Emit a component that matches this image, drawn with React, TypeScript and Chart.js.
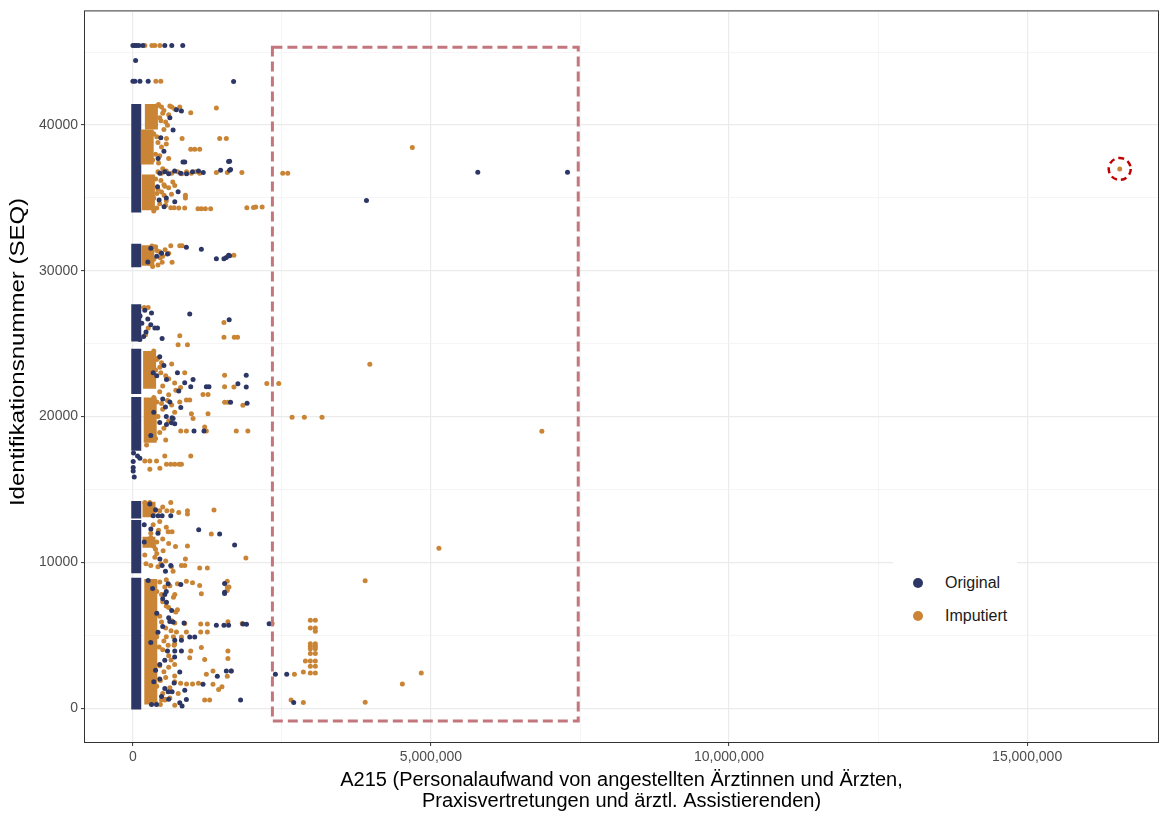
import React, { useEffect, useRef } from "react";
import { Chart, registerables } from "chart.js";

Chart.register(...registerables);

const NAVY = "#2D3766";
const ORANGE = "#C98535";
const FONT = "'Liberation Sans', Arial, sans-serif";

const seriesNames = ["Original", "Imputiert"];
const xTitleLines = [
  "A215 (Personalaufwand von angestellten Ärztinnen und Ärzten,",
  "Praxisvertretungen und ärztl. Assistierenden)",
];
const yTitle = "Identifikationsnummer (SEQ)";

const X_MIN = -803600;
const X_MAX = 17195000;
const Y_MIN = -2325;
const Y_MAX = 47795;
const xGridValues = [0, 2500000, 5000000, 7500000, 10000000, 12500000, 15000000];
const xMajorTicks = [0, 5000000, 10000000, 15000000];
const yGridValues = [0, 5000, 10000, 15000, 20000, 25000, 30000, 35000, 40000, 45000];
const yMajorTicks = [0, 10000, 20000, 30000, 40000];

// dense clusters of records near zero (x in thousands, y ranges of SEQ)
const navyBandCenterK = 56;
const navyBandSegments: [number, number][] = [
  [-100, 8950], [9250, 12900], [13000, 14200], [17650, 21350], [21550, 24650],
  [25150, 27700], [30250, 31850], [34000, 41450],
];
// [x center in thousands, y start, y end]
const orangeBandSegments: [number, number, number][] = [
  [310, 39700, 41450], [240, 37300, 39700], [260, 34150, 36600], [250, 30350, 31750],
  [280, 21900, 24500], [290, 18200, 21300], [270, 13100, 14150], [270, 11000, 11750],
  [300, 250, 8850],
];

// individual points: [A215 in thousands, SEQ]
const navyPointsK: [number, number][] = [
  [0,45450],[30,45450],[60,45450],[100,45450],[167,45450],[535,45450],[652,45450],[836,45450],
  [45,44430],[0,43010],[33,43010],[117,43010],[256,43010],[1689,42990],
  [730,41050],[814,40960],[674,39660],[468,39120],[423,37700],[840,37470],[870,37470],[1605,37500],
  [1622,37520],[1471,36900],[1638,36950],[1622,36900],
  [452,36700],[535,36800],[600,36650],[700,36850],[800,36700],[900,36650],[1000,36800],[1100,36850],[1180,36750],
  [413,35760],[758,35420],[702,34740],[523,34400],[440,34860],
  [3918,34830],[5785,36760],[7290,36760],
  [897,31610],[1148,31480],[580,31160],[1400,30830],[1527,30830],[1567,30920],[1605,31060],[1622,31040],
  [300,31550],[400,31000],[250,30600],
  [312,27100],[953,27030],[1615,26650],[368,26070],[413,26070],[490,25350],[117,25280],[200,27300],
  [250,26700],[150,26400],[300,26300],[220,25800],[180,25500],[100,27500],[120,26900],
  [747,23000],[1009,22550],[1901,22840],[1761,22250],[1901,22020],[1232,22040],[1276,22040],[970,22040],
  [340,23000],[563,22550],[869,22320],[769,21750],[1638,20990],[1915,20915],[803,20630],[546,20650],
  [657,19920],[674,19870],[647,19580],[563,19450],[1025,19010],[1192,19010],[702,19510],
  [400,22800],[500,21200],[350,20300],[450,19600],[300,18700],[520,23500],
  [78,17300],[117,17140],[5,16910],[5,16500],[5,16270],[22,15860],[10,17500],
  [284,14000],[340,13200],[423,13200],[490,13200],[635,13200],[190,12580],[301,12290],[1104,12240],
  [1455,11940],[190,11400],[1706,11190],[452,10230],[490,9780],[635,9780],[546,9390],
  [256,8750],[591,8530],[803,8480],[1538,8550],[1538,7950],[1538,7860],[535,7800],[563,7270],
  [619,5950],[674,5900],[858,5840],[1400,5680],[1527,5680],[1605,5680],[1845,5770],[1905,5760],[2285,5780],
  [702,4650],[814,4650],[953,4880],[1037,4880],[580,3920],[702,3920],[814,3920],[535,3280],
  [786,2480],[1567,2550],[1650,2550],[1416,2190],[1176,1640],[691,1730],[535,1350],[591,1120],
  [657,1120],[870,1230],[1806,550],[786,360],[825,140],[897,590],[312,250],[396,250],
  [2390,2330],[2580,2330],[2697,390],
  [400,6500],[300,4500],[450,3000],[350,1800],[500,7500],[420,5200],[600,6200],[380,2600],[480,800],[330,8200],
  [620,40500],[520,38200],[560,35000],[480,31200],[450,24100],[620,21000],[560,20000],[560,8000],
  [650,6700],[500,5600],[700,3500],[450,2000],[600,600],[420,12000],[380,13600],
];

const orangePointsK: [number, number][] = [
  [200,45450],[318,45450],[368,45450],[452,45450],[385,43010],[468,43010],
  [480,41230],[652,41230],[786,41230],[970,40840],[1400,41160],[400,41300],[520,41000],[600,40700],
  [450,40500],[550,40200],[380,40000],[580,39980],[563,39080],
  [825,39070],[1455,39070],[1567,39070],[970,38340],[1037,38340],[1120,38340],[350,39400],[420,38800],
  [380,38000],[330,37600],[450,37900],
  [420,36800],[480,36700],[560,36850],[650,36700],[750,36800],[820,36650],[900,36800],[980,36700],
  [1050,36800],[1120,36700],[1400,36740],[1583,36740],[1828,36740],[2513,36700],[2597,36700],
  [669,36100],[702,35850],[535,35800],[523,35190],[647,35250],[881,35190],[881,35000],[380,36300],
  [420,35600],[350,35000],[450,34600],[400,34300],[550,34500],[480,35400],
  [635,34330],[691,34330],[769,34300],[869,34300],[1092,34250],[1148,34250],[1215,34250],[1304,34250],
  [1911,34330],[2023,34350],[2060,34380],[2168,34380],[4687,38450],
  [430,41400],[500,40800],[470,40300],[520,39700],[400,39200],[480,38500],[430,37400],[500,37000],
  [470,36200],[520,35900],[400,35300],[560,34800],[600,35700],[350,34100],[620,41300],[700,41100],
  [560,38700],[600,37700],
  [250,31500],[320,31700],[400,31400],[450,31300],[300,31100],[350,30800],[420,30400],[330,30300],
  [500,31000],[635,31710],[786,31710],[825,31710],[490,30590],[657,30590],[1694,31060],
  [380,31650],[460,30900],[540,31450],[280,30500],[600,31200],
  [190,27490],[256,27490],[1527,26460],[256,26070],[212,25620],[786,25550],[1527,25440],[1700,25440],
  [1755,25440],[758,24930],[915,24930],
  [256,24320],[396,23910],[452,23390],[468,23000],[869,23000],[1538,22840],[2246,22270],[2446,22270],
  [1538,22040],[1694,22020],[1176,21520],[1260,21520],[897,21130],[953,21130],[600,21500],[700,22300],
  [800,22000],[550,22800],[650,23600],[500,22100],[1538,20990],[1594,20990],[1845,20770],[786,21000],
  [981,20190],[1260,20190],[1009,19870],[1204,19280],[803,19010],[897,19010],[1232,19010],[1734,19010],
  [1928,19010],[229,18050],[2670,19950],[2876,19950],[3172,19950],[6860,18990],[3974,23590],
  [500,20500],[600,19700],[450,18900],[550,18400],[700,20300],[400,21000],
  [350,24500],[420,24000],[380,23200],[480,23700],[600,22600],[720,21800],[450,21700],[350,21300],
  [420,20000],[520,19200],[380,18500],[650,20800],[580,21100],[480,20900],
  [535,17300],[970,17300],[200,16960],[284,16960],[396,16960],[563,16730],[635,16730],[702,16730],
  [775,16730],[814,16730],[284,16390],[452,16460],
  [200,14110],[284,14110],[635,14110],[368,13540],[450,13540],[569,13540],[657,13540],[769,13420],
  [915,13540],[915,13310],[1360,13590],[340,12580],[591,12100],[657,12100],[1315,11940],[300,11700],
  [400,11400],[350,11100],[507,10800],[714,11080],[915,11120],[1895,10300],[200,10500],[368,10350],
  [881,10230],[220,9900],[300,9780],[420,9700],[814,9780],[870,9780],[1120,9620],[1249,9620],
  [674,9390],[647,9700],[5133,10960],[3896,8730],[450,12800],[300,12000],[500,11600],[250,11200],
  [400,10600],[550,10100],[500,13800],[560,12400],[430,12200],[600,11300],[380,10900],[470,9900],
  [450,8650],[535,8300],[747,8530],[897,8700],[1000,8600],[1120,8410],[1583,8700],[1583,8300],
  [1583,8070],[1611,8300],[1148,7840],[702,7800],[747,6750],[702,5840],[870,5800],[1137,5770],
  [1249,5770],[1594,5930],[1834,5800],[2336,5800],[730,5220],[897,5220],[1137,5220],[1249,5220],
  [814,4880],[591,4310],[691,4310],[970,3920],[1148,4150],[1594,3920],[1594,3400],[953,3460],
  [1204,3330],[1343,2550],[1650,2550],[1232,2330],[1583,2190],[700,1800],[800,1700],[900,1650],
  [1000,1650],[1100,1700],[1343,1640],[1438,1280],[1494,1460],[1204,550],[1287,550],[702,200],
  [480,550],[535,550],[2653,550],[2859,390],[2709,2330],[2859,2480],[2893,3230],
  [2976,6020],[3060,6020],[2976,5490],[3060,5490],[3060,5270],[2976,4420],[3060,4420],[2976,4250],
  [3060,4250],[2976,4080],[3060,4080],[2976,3740],[3060,3740],[2976,3230],[3060,3230],[2976,2870],
  [3060,2870],[2976,2410],[3060,2410],[3896,410],[4520,1660],[4837,2410],
  [400,8000],[500,7300],[600,6900],[450,6300],[550,5500],[400,4900],[500,4000],[600,3600],[450,2900],
  [550,2100],[400,1500],[500,1000],[620,700],[380,350],[600,2800],[650,6000],[520,4600],[700,3000],
  [480,7800],[560,8800],
  [620,8400],[680,7600],[560,7000],[720,6600],[480,5900],[640,5300],[560,4900],[700,4400],[440,4200],
  [640,3300],[520,2500],[700,2200],[460,1900],[620,1400],[540,600],[460,250],[760,1000],[680,4900],
  [16553,36990],
];

// highlighted region (data units)
const highlightBox = { xMin: 2340000, xMax: 7470000, yMin: -890, yMax: 45330 };
const highlightCircle = { x: 16553000, y: 36990 };

const toXY = (arr: [number, number][]) => arr.map(([xk, y]) => ({ x: xk * 1000, y }));

export default function App() {
  const ref = useRef<HTMLCanvasElement | null>(null);

  useEffect(() => {
    document.body.style.margin = "0";
    const canvas = ref.current;
    if (!canvas) return;

    const datasets: any[] = [];
    navyBandSegments.forEach(([y0, y1]) => {
      datasets.push({
        label: "band-o",
        data: [{ x: navyBandCenterK * 1000, y: y0 }, { x: navyBandCenterK * 1000, y: y1 }],
        showLine: true, borderColor: NAVY, borderWidth: 10, pointRadius: 0, order: 6,
      });
    });
    orangeBandSegments.forEach(([xk, y0, y1]) => {
      datasets.push({
        label: "band-i",
        data: [{ x: xk * 1000, y: y0 }, { x: xk * 1000, y: y1 }],
        showLine: true, borderColor: ORANGE, borderWidth: 13, pointRadius: 0, order: 5,
      });
    });
    datasets.push({
      label: seriesNames[1], data: toXY(orangePointsK), backgroundColor: ORANGE,
      borderWidth: 0, pointRadius: 2.5, order: 4,
    });
    datasets.push({
      label: seriesNames[0], data: toXY(navyPointsK), backgroundColor: NAVY,
      borderWidth: 0, pointRadius: 2.5, order: 3,
    });

    const overlay = {
      id: "overlay",
      afterDatasetsDraw(chart: any) {
        const { ctx, scales } = chart;
        const x = scales.x, y = scales.y;
        ctx.save();
        ctx.strokeStyle = "#C4767D";
        ctx.lineWidth = 3;
        ctx.setLineDash([10, 5]);
        const l = x.getPixelForValue(highlightBox.xMin), r = x.getPixelForValue(highlightBox.xMax);
        const t = y.getPixelForValue(highlightBox.yMax), b = y.getPixelForValue(highlightBox.yMin);
        ctx.strokeRect(l, t, r - l, b - t);
        ctx.strokeStyle = "#C00000";
        ctx.lineWidth = 2.5;
        ctx.setLineDash([6, 4]);
        ctx.beginPath();
        ctx.arc(x.getPixelForValue(highlightCircle.x), y.getPixelForValue(highlightCircle.y), 11, 0, Math.PI * 2);
        ctx.stroke();
        ctx.restore();
      },
      afterDraw(chart: any) {
        const { ctx, chartArea } = chart;
        ctx.save();
        ctx.strokeStyle = "#333333";
        ctx.lineWidth = 1;
        ctx.strokeRect(chartArea.left - 0.5, chartArea.top - 0.5, chartArea.right - chartArea.left + 1, chartArea.bottom - chartArea.top + 1);
        ctx.fillStyle = "#000000";
        ctx.font = `20px ${FONT}`;
        ctx.textAlign = "center";
        ctx.textBaseline = "middle";
        const cx = (chartArea.left + chartArea.right) / 2;
        ctx.fillText(xTitleLines[0], cx, 780);
        ctx.fillText(xTitleLines[1], cx, 801);
        ctx.translate(18, 352);
        ctx.rotate(-Math.PI / 2);
        ctx.scale(1.2, 1);
        ctx.fillText(yTitle, 0, 0);
        ctx.restore();
      },
    };

    const chart = new Chart(canvas, {
      type: "scatter",
      data: { datasets },
      options: {
        animation: false,
        responsive: false,
        events: [],
        layout: { padding: { left: 0, right: 2, top: 9, bottom: 0 } },
        plugins: { legend: { display: false }, tooltip: { enabled: false } },
        scales: {
          x: {
            type: "linear",
            min: X_MIN,
            max: X_MAX,
            afterBuildTicks: (s: any) => { s.ticks = xGridValues.map((v) => ({ value: v })); },
            afterFit: (s: any) => { s.height = 72; },
            border: { display: false },
            grid: {
              color: (c: any) => (xMajorTicks.includes(c.tick?.value) ? "#EBEBEB" : "#F3F3F3"),
              lineWidth: (c: any) => (xMajorTicks.includes(c.tick?.value) ? 1.2 : 0.8),
              tickLength: 4,
              tickColor: (c: any) => (xMajorTicks.includes(c.tick?.value) ? "#333333" : "rgba(0,0,0,0)"),
              tickWidth: 1,
            },
            ticks: {
              autoSkip: false,
              maxRotation: 0,
              padding: 3,
              color: "#4D4D4D",
              font: { family: FONT, size: 14 },
              callback: (v: any) => (xMajorTicks.includes(v) ? Number(v).toLocaleString("en-US") : ""),
            },
          },
          y: {
            type: "linear",
            min: Y_MIN,
            max: Y_MAX,
            afterBuildTicks: (s: any) => { s.ticks = yGridValues.map((v) => ({ value: v })); },
            afterFit: (s: any) => { s.width = 85; },
            border: { display: false },
            grid: {
              color: (c: any) => (yMajorTicks.includes(c.tick?.value) ? "#EBEBEB" : "#F3F3F3"),
              lineWidth: (c: any) => (yMajorTicks.includes(c.tick?.value) ? 1.2 : 0.8),
              tickLength: 4,
              tickColor: (c: any) => (yMajorTicks.includes(c.tick?.value) ? "#333333" : "rgba(0,0,0,0)"),
              tickWidth: 1,
            },
            ticks: {
              autoSkip: false,
              padding: 3,
              color: "#4D4D4D",
              font: { family: FONT, size: 14 },
              callback: (v: any) => (yMajorTicks.includes(v) ? String(v) : ""),
            },
          },
        },
      },
      plugins: [overlay],
    });
    return () => chart.destroy();
  }, []);

  return (
    <div style={{ position: "relative", width: 1162, height: 814, background: "#fff" }}>
      <canvas ref={ref} width={1162} height={814} style={{ display: "block" }} />
      <div
        style={{
          position: "absolute", left: 893, top: 562, width: 124, height: 73, background: "#fff",
          fontFamily: FONT, fontSize: 16, color: "#1A1A1A",
        }}
      >
        {seriesNames.map((name, i) => (
          <div key={name} style={{ position: "absolute", left: 0, top: i === 0 ? 11 : 44, height: 20, display: "flex", alignItems: "center" }}>
            <span style={{ position: "absolute", left: 20, top: 5, width: 10, height: 10, borderRadius: 5, background: i === 0 ? NAVY : ORANGE }} />
            <span style={{ position: "absolute", left: 52, top: 0, lineHeight: "20px", whiteSpace: "nowrap" }}>{name}</span>
          </div>
        ))}
      </div>
    </div>
  );
}
